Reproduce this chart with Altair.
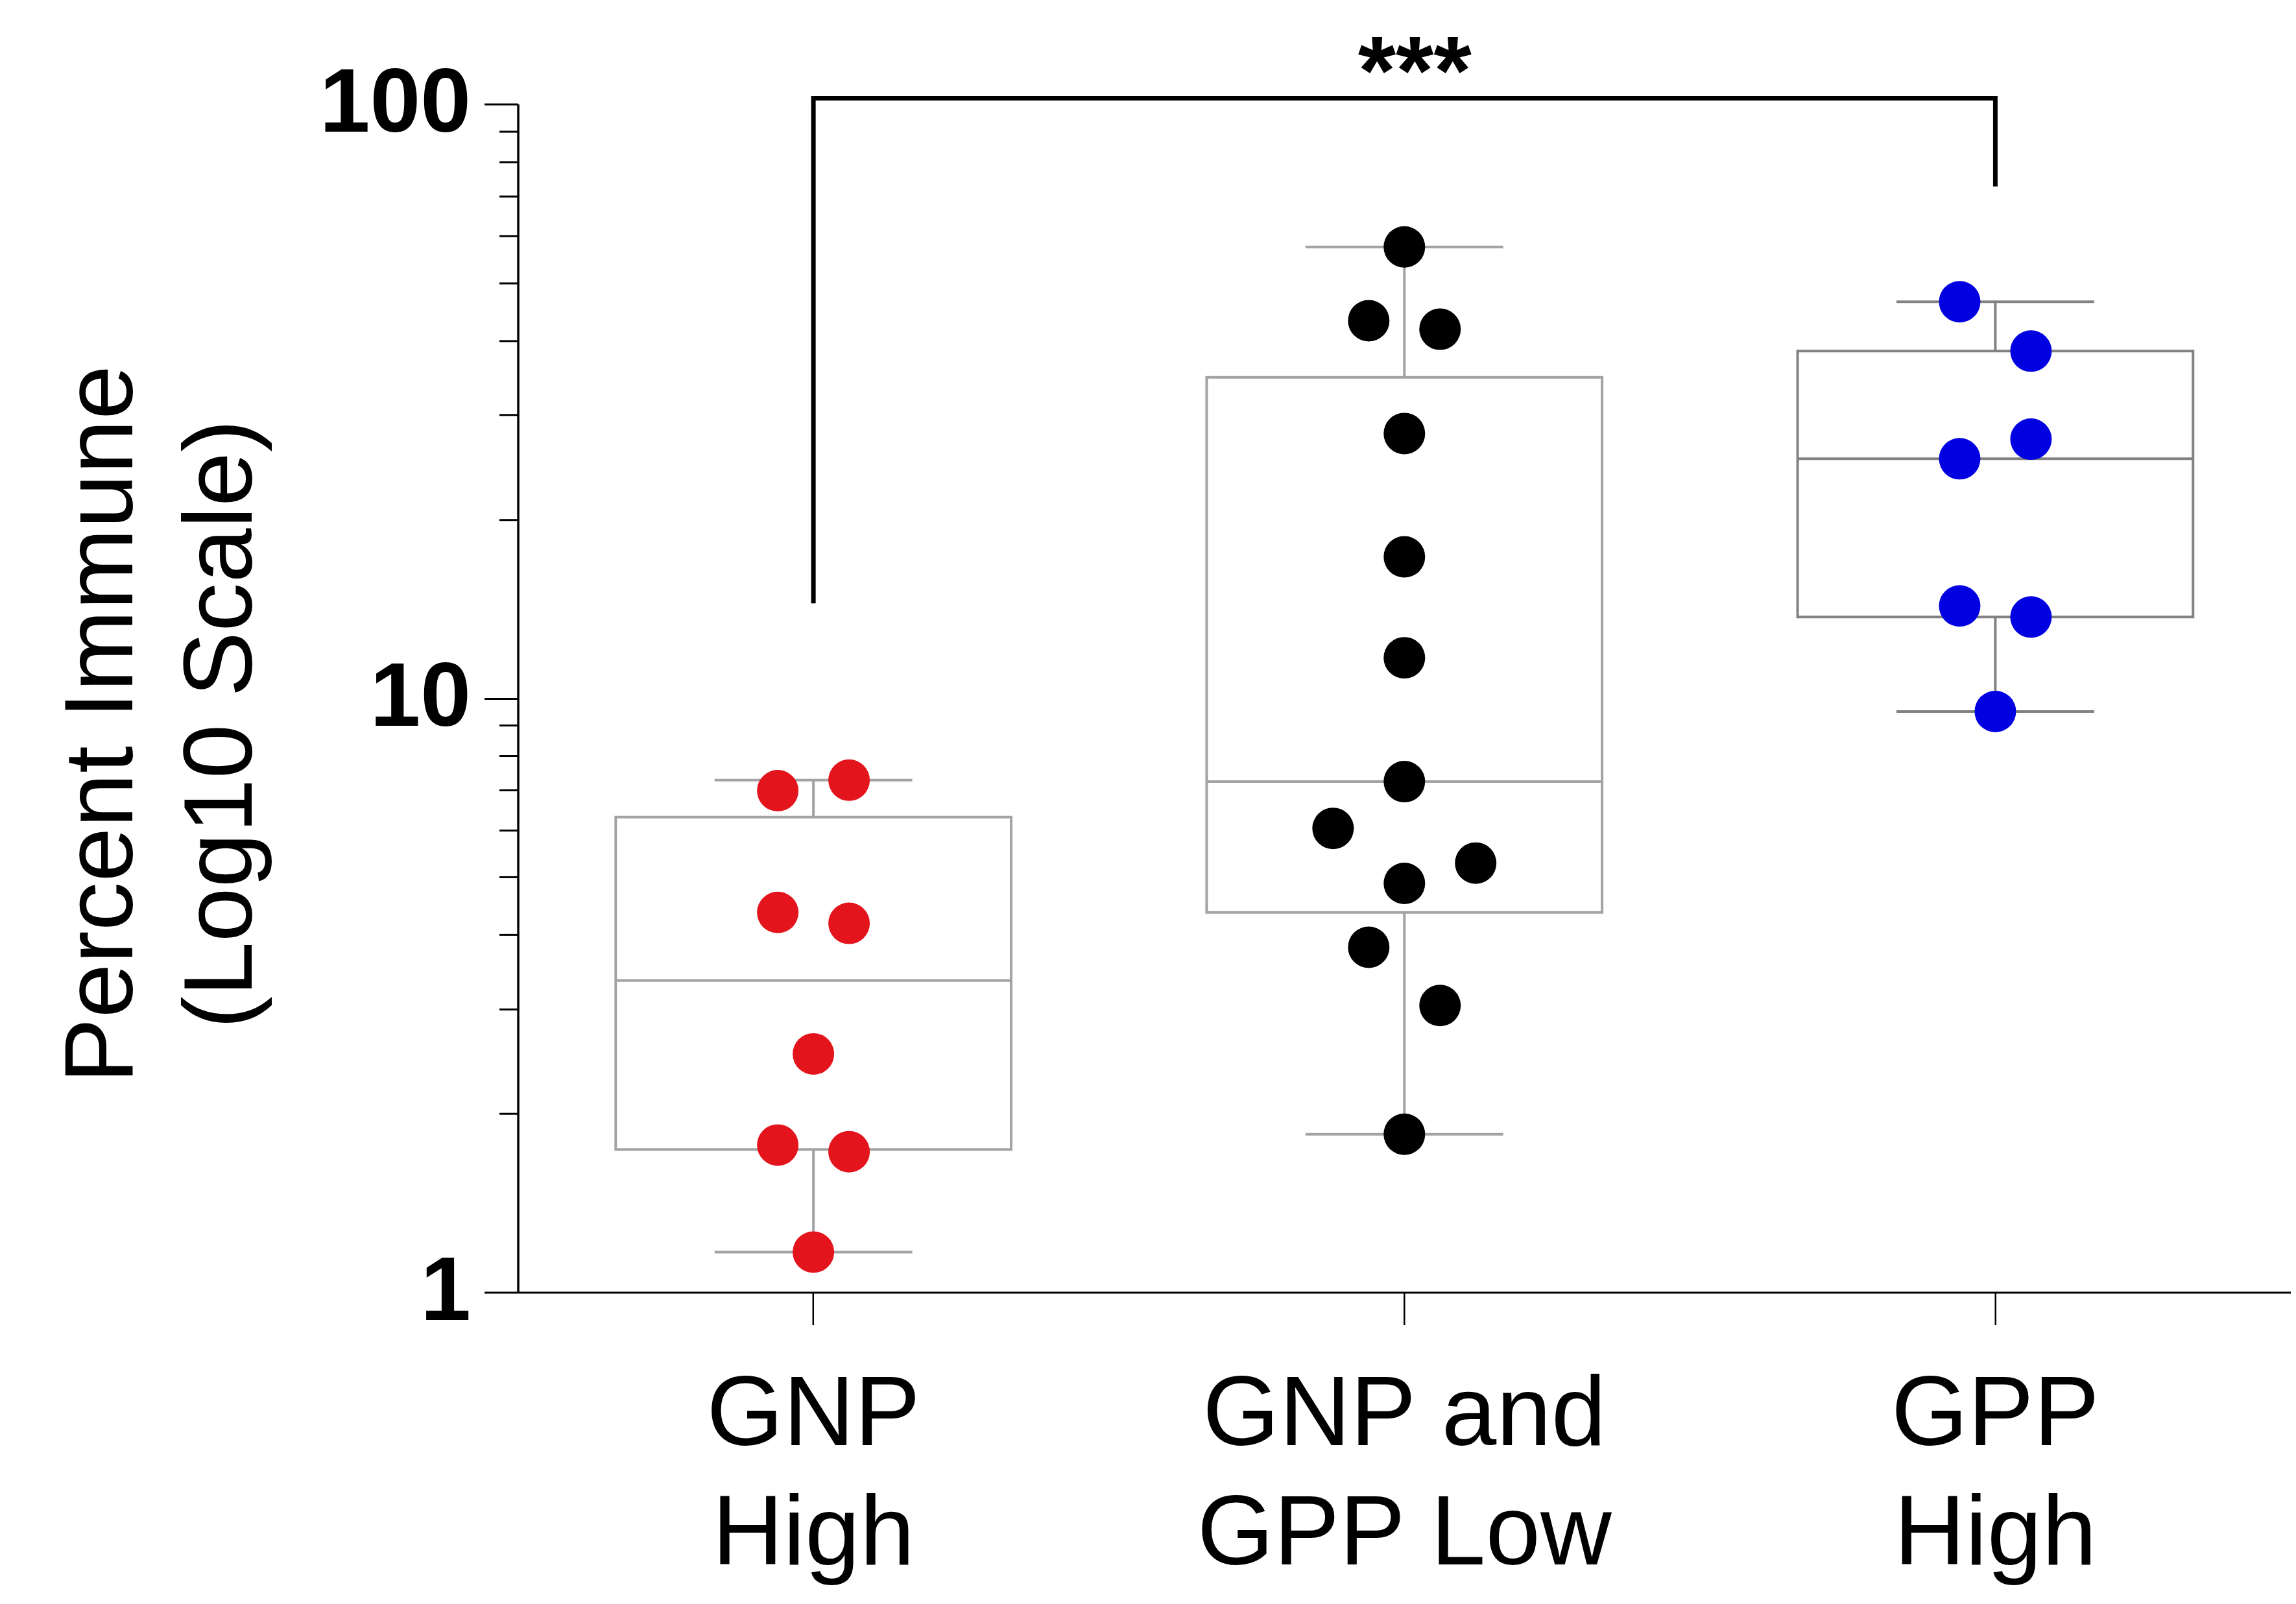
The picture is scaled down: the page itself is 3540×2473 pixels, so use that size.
import altair as alt
import pandas as pd

# ---------------- data ----------------
categories = ["GNP High", "GNP and GPP Low", "GPP High"]
label_lines = [["GNP", "High"], ["GNP and", "GPP Low"], ["GPP", "High"]]
point_colors = ["#e3141c", "#000000", "#0000e1"]
box_colors = ["#a3a3a7", "#a3a3a7", "#828282"]

gnp_high_values = [6.99, 7.28, 4.36, 4.18, 2.52, 1.77, 1.725, 1.169]
gnp_high_slots = [-1, 1, -1, 1, 0, -1, 1, 0]
low_values = [57.5, 43.2, 41.8, 27.9, 17.3, 11.7, 7.24, 6.04, 5.28, 4.88, 3.81, 3.04, 1.846]
low_slots = [0, -1, 1, 0, 0, 0, 0, -2, 2, 0, -1, 1, 0]
gpp_high_values = [46.5, 38.4, 27.3, 25.3, 14.3, 13.7, 9.5]
gpp_high_slots = [-1, 1, 1, -1, -1, 1, 0]

whisker_low = [1.169, 1.846, 9.5]
q1 = [1.74, 4.36, 13.7]
median = [3.35, 7.24, 25.3]
q3 = [6.31, 34.7, 38.4]
whisker_high = [7.28, 57.5, 46.5]

bracket_groups = ["GNP High", "GNP High", "GPP High", "GPP High"]
bracket_values = [14.45, 102.3, 102.3, 72.7]
star_label = "***"
star_group = "GNP and GPP Low"
star_value = 100

major_ticks = [1, 10, 100]
minor_ticks = [2, 3, 4, 5, 6, 7, 8, 9, 20, 30, 40, 50, 60, 70, 80, 90]
y_title = ["Percent Immune", "(Log10 Scale)"]

# ---------------- tables ----------------
rows = []
for g, vals, slots in zip(categories,
                          [gnp_high_values, low_values, gpp_high_values],
                          [gnp_high_slots, low_slots, gpp_high_slots]):
    for v, s in zip(vals, slots):
        rows.append({"group": g, "value": v, "slot": s})
points_df = pd.DataFrame(rows)

summary_df = pd.DataFrame({
    "group": categories, "lo": whisker_low, "q1": q1,
    "med": median, "q3": q3, "hi": whisker_high,
})
bracket_df = pd.DataFrame({"group": bracket_groups, "value": bracket_values,
                           "step": list(range(len(bracket_groups)))})
star_df = pd.DataFrame({"group": [star_group], "value": [star_value], "label": [star_label]})

# ---------------- encodings ----------------
FONT = "Liberation Sans"

label_expr = " : ".join(
    f"datum.value == '{c}' ? [{', '.join(repr(p) for p in lines)}]"
    for c, lines in zip(categories, label_lines)
) + " : datum.label"

x_axis = alt.Axis(
    orient="bottom", labelExpr=label_expr, labelAngle=0, labelFont=FONT,
    labelFontSize=152, labelLineHeight=184, labelBaseline="top", labelPadding=65,
    labelLimit=0, labelColor="black", tickSize=50, tickWidth=2.5, tickColor="black",
    domainWidth=3, domainColor="black", title=None, grid=False,
)
x_scale = alt.Scale(domain=categories, paddingInner=0, paddingOuter=0)
x_enc = alt.X("group:N", scale=x_scale, axis=x_axis, title=None)

y_scale = alt.Scale(type="log", domain=[1, 100], nice=False)

major_axis = alt.Axis(
    orient="left", values=major_ticks, format="d", tickSize=52, tickWidth=3, tickColor="black",
    domainWidth=3.5, domainColor="black", labelFont=FONT, labelFontWeight="bold",
    labelFontSize=140, labelPadding=21, labelLimit=0, labelColor="black", labelOverlap=False,
    grid=False, title=y_title, titleFont=FONT, titleFontSize=151, titleFontWeight="normal",
    titleColor="black", titleAngle=270, titleAlign="center", titleBaseline="alphabetic",
    titleX=-595, titleY=956, titleLineHeight=184, titleLimit=3000,
)
minor_axis = alt.Axis(
    orient="left", values=minor_ticks, labels=False, tickSize=29, tickWidth=3,
    tickColor="black", domain=False, grid=False, title=None,
)

box_stroke = alt.Stroke("group:N", scale=alt.Scale(domain=categories, range=box_colors), legend=None)
box_fill = alt.Fill("group:N", scale=alt.Scale(domain=categories, range=box_colors), legend=None)

boxes = alt.Chart(summary_df).mark_bar(size=610, fill="white", strokeWidth=4).encode(
    x=x_enc, y=alt.Y("q1:Q", scale=y_scale, axis=minor_axis), y2="q3:Q", stroke=box_stroke)

whisk_hi = alt.Chart(summary_df).mark_rule(strokeWidth=4).encode(
    x=x_enc, y=alt.Y("q3:Q", scale=y_scale, axis=None), y2="hi:Q", stroke=box_stroke)
whisk_lo = alt.Chart(summary_df).mark_rule(strokeWidth=4).encode(
    x=x_enc, y=alt.Y("lo:Q", scale=y_scale, axis=None), y2="q1:Q", stroke=box_stroke)

cap_hi = alt.Chart(summary_df).mark_tick(size=305, thickness=4, opacity=1).encode(
    x=x_enc, y=alt.Y("hi:Q", scale=y_scale, axis=None), fill=box_fill)
cap_lo = alt.Chart(summary_df).mark_tick(size=305, thickness=4, opacity=1).encode(
    x=x_enc, y=alt.Y("lo:Q", scale=y_scale, axis=None), fill=box_fill)
med_line = alt.Chart(summary_df).mark_tick(size=610, thickness=4, opacity=1).encode(
    x=x_enc, y=alt.Y("med:Q", scale=y_scale, axis=None), fill=box_fill)

# jitter slots: one slot = 55px sideways from the band centre
offset_scale = alt.Scale(domain=[-2, 2],
                         range=[alt.ExprRef("width / 6 - 110"), alt.ExprRef("width / 6 + 110")])

dots = alt.Chart(points_df).mark_circle(size=4100, opacity=1).encode(
    x=x_enc,
    xOffset=alt.XOffset("slot:Q", scale=offset_scale),
    y=alt.Y("value:Q", scale=y_scale, axis=major_axis),
    color=alt.Color("group:N", scale=alt.Scale(domain=categories, range=point_colors), legend=None),
)

bracket = alt.Chart(bracket_df).mark_line(strokeWidth=7, color="black", strokeJoin="miter",
                                          strokeCap="butt").encode(
    x=x_enc, y=alt.Y("value:Q", scale=y_scale, axis=None), order="step:Q")

stars = alt.Chart(star_df).mark_text(font=FONT, fontSize=150, fontWeight="bold", color="black",
                                     baseline="alphabetic", align="center", dx=16).encode(
    x=x_enc, y=alt.Y("value:Q", scale=y_scale, axis=None), text="label:N")

chart = alt.layer(
    boxes, whisk_hi, whisk_lo, cap_hi, cap_lo, med_line, dots, bracket, stars
).resolve_scale(y="shared").resolve_axis(y="independent").properties(
    width=2735, height=1833,
    autosize=alt.AutoSizeParams(type="none"),
    padding={"left": 791, "top": 152, "right": 0, "bottom": 460},
    background="white",
).configure_view(stroke=None)

chart.save("out.html", embed_options={"renderer": "svg", "actions": False})
